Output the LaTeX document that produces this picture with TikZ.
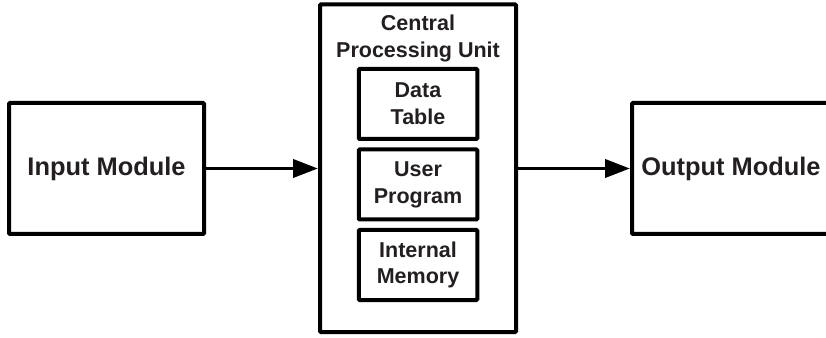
\documentclass[tikz,border=0pt]{standalone}
\usepackage{fontspec}
\setmainfont{Liberation Sans}
\usetikzlibrary{arrows.meta}
\definecolor{txt}{HTML}{231F20}
\begin{document}
\begin{tikzpicture}[x=1pt,y=1pt,
  box/.style={draw=black, line width=4pt, rounded corners=1pt, inner sep=0pt, align=center, text=txt},
  bigfont/.style={font=\fontsize{25.4}{30}\selectfont\bfseries},
  smallfont/.style={font=\fontsize{21.5}{26.8}\selectfont\bfseries},
  conn/.style={line width=3.8pt, -{Triangle[length=25pt,width=18pt]}}
]
\useasboundingbox (0,0) rectangle (826,337);
\node[box, bigfont, minimum width=195pt, minimum height=131pt] (in) at (106.5,168.5) {Input Module};
\node[box, minimum width=196pt, minimum height=327.5pt] (cpu) at (418,168.75) {};
\node[smallfont, text=txt, align=center, inner sep=0pt, anchor=north] (title) at (418,322) {Central\\Processing Unit};
\node[box, smallfont, minimum width=118.5pt, minimum height=70pt] (dt) at (418,233) {Data\\Table};
\node[box, smallfont, minimum width=118.5pt, minimum height=70pt] (up) at (418,152.5) {User\\Program};
\node[box, smallfont, minimum width=118.5pt, minimum height=70pt] (im) at (418,72) {Internal\\Memory};
\node[box, bigfont, minimum width=198pt, minimum height=131pt] (out) at (731,168.5) {Output Module};
\draw[conn] (in.east) -- (cpu.west |- in.east);
\draw[conn] (cpu.east |- out.west) -- (out.west);
\end{tikzpicture}
\end{document}
